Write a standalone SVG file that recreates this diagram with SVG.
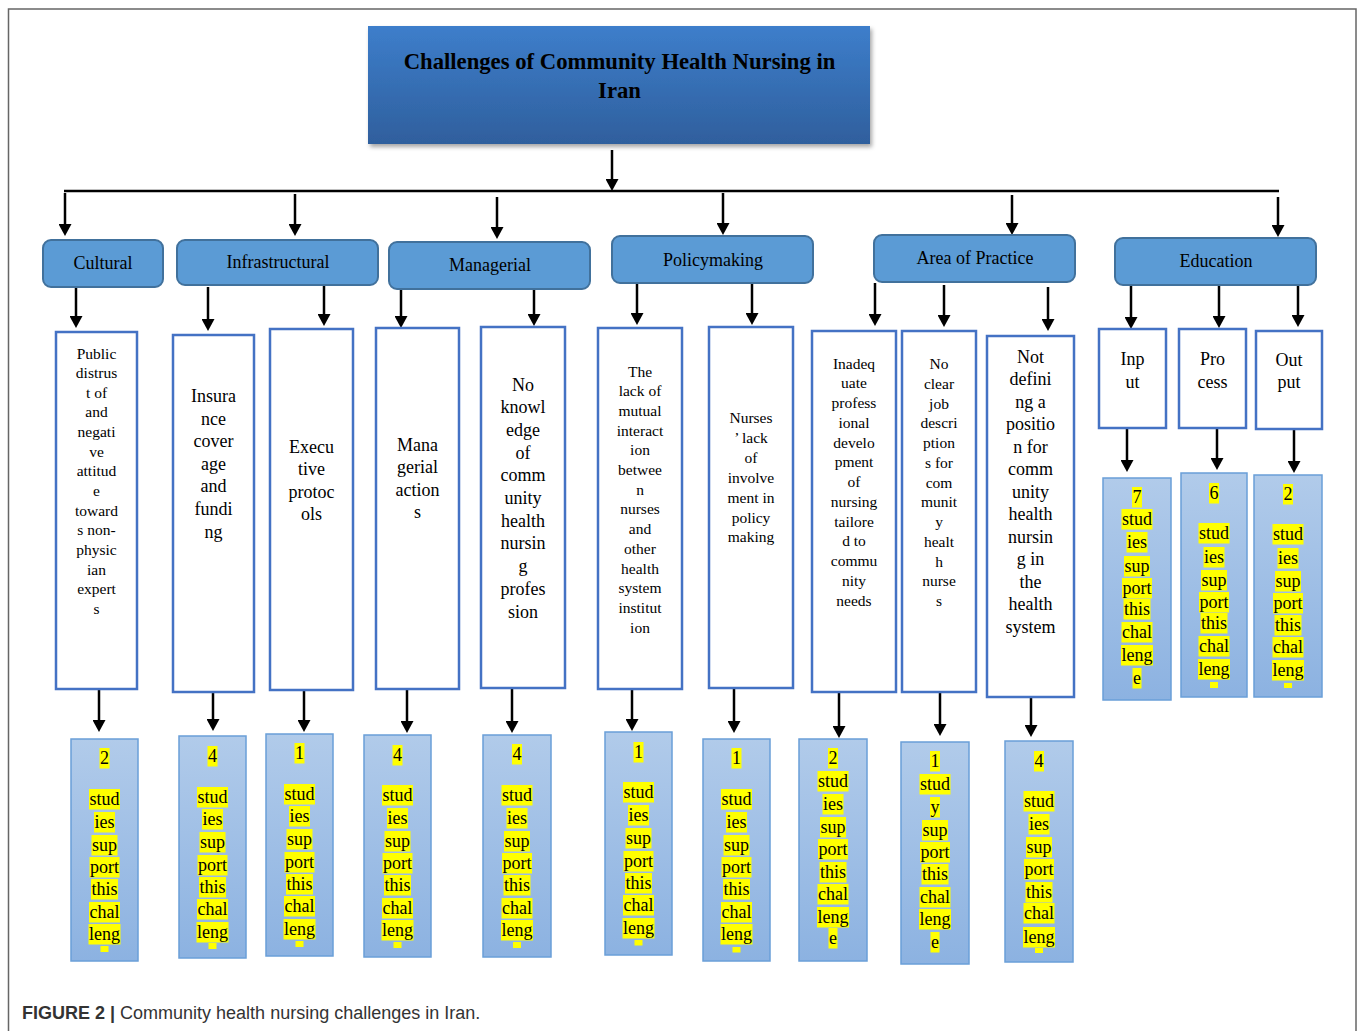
<svg xmlns="http://www.w3.org/2000/svg" width="1358" height="1031" viewBox="0 0 1358 1031">
<defs>
<linearGradient id="tg" x1="0" y1="0" x2="0" y2="1"><stop offset="0" stop-color="#3d7ecb"/><stop offset="1" stop-color="#2f5f9d"/></linearGradient>
<linearGradient id="sg" x1="0" y1="0" x2="0" y2="1"><stop offset="0" stop-color="#b1cbea"/><stop offset="1" stop-color="#8cb2e1"/></linearGradient>
<filter id="sh" x="-5%" y="-10%" width="112%" height="130%"><feDropShadow dx="2" dy="3" stdDeviation="2" flood-color="#000" flood-opacity="0.35"/></filter>
<marker id="ah" markerUnits="userSpaceOnUse" markerWidth="12" markerHeight="13" viewBox="0 0 12 13" refX="8" refY="6.5" orient="auto"><path d="M0,0 L12,6.5 L0,13 Z" fill="#000"/></marker>
</defs>
<style>
.fr{fill:none;stroke:#666;stroke-width:1.5}
.ttl{font-family:"Liberation Serif",serif;font-weight:bold;font-size:22.7px;text-anchor:middle;fill:#000}
.cat rect{fill:#5b9bd5;stroke:#41719c;stroke-width:2}
.cat text{font-family:"Liberation Serif",serif;font-size:18px;text-anchor:middle;fill:#000}
.det rect{fill:#fff;stroke:#4472c4;stroke-width:2.5}
.det text{font-family:"Liberation Serif",serif;text-anchor:middle;fill:#000}
.s15{font-size:15.5px}
.s18{font-size:18px}
.st>rect{fill:url(#sg);stroke:#6a9fd8;stroke-width:1.5}
.st .h{fill:#ffff00}
.st text{font-family:"Liberation Serif",serif;font-size:18px;text-anchor:middle;fill:#000}
#connectors line,#connectors path{stroke:#000;stroke-width:2.5;fill:none}
#connectors line{marker-end:url(#ah)}
.cap{font-family:"Liberation Sans",Arial,sans-serif;font-size:18px;fill:#333}
</style>
<rect x="0" y="0" width="1358" height="1031" fill="#fff"/>
<rect class="fr" x="8.5" y="9" width="1347.5" height="1040"/>

<g id="title">
<rect x="368" y="26" width="502" height="118" fill="url(#tg)" filter="url(#sh)"/>
<text class="ttl" x="619.5" y="69">Challenges of Community Health Nursing in</text>
<text class="ttl" x="619.5" y="98">Iran</text>
</g>

<g id="connectors">
<line x1="612" y1="150" x2="612" y2="187"/>
<path d="M64,191 H1279" stroke-width="2"/>
<line x1="65" y1="193" x2="65" y2="232"/>
<line x1="295" y1="194" x2="295" y2="232"/>
<line x1="497" y1="197" x2="497" y2="235"/>
<line x1="723" y1="193" x2="723" y2="231"/>
<line x1="1012" y1="195" x2="1012" y2="231"/>
<line x1="1278" y1="197" x2="1278" y2="233"/>
<line x1="76" y1="287" x2="76" y2="324"/>
<line x1="208" y1="287" x2="208" y2="327"/>
<line x1="324" y1="284" x2="324" y2="322"/>
<line x1="401" y1="289" x2="401" y2="324"/>
<line x1="534" y1="286" x2="534" y2="322"/>
<line x1="637" y1="283" x2="637" y2="321"/>
<line x1="752" y1="283" x2="752" y2="321"/>
<line x1="875" y1="283" x2="875" y2="322"/>
<line x1="944" y1="285" x2="944" y2="323"/>
<line x1="1048" y1="287" x2="1048" y2="327"/>
<line x1="1131" y1="286" x2="1131" y2="325"/>
<line x1="1219" y1="285" x2="1219" y2="324"/>
<line x1="1298" y1="284" x2="1298" y2="323"/>
<line x1="99" y1="689" x2="99" y2="728"/>
<line x1="213" y1="692" x2="213" y2="727"/>
<line x1="304" y1="690" x2="304" y2="728"/>
<line x1="407" y1="689" x2="407" y2="729"/>
<line x1="512" y1="688" x2="512" y2="729"/>
<line x1="632" y1="689" x2="632" y2="727"/>
<line x1="734" y1="688" x2="734" y2="729"/>
<line x1="839" y1="692" x2="839" y2="734"/>
<line x1="940" y1="692" x2="940" y2="732"/>
<line x1="1031" y1="697" x2="1031" y2="733"/>
<line x1="1127" y1="428" x2="1127" y2="468"/>
<line x1="1217" y1="428" x2="1217" y2="466"/>
<line x1="1294" y1="429" x2="1294" y2="469"/>
</g>

<g id="cat-cultural" class="cat"><rect x="43" y="240" width="120" height="47" rx="8"/><text x="103" y="269">Cultural</text></g>
<g id="cat-infrastructural" class="cat"><rect x="177" y="240" width="201" height="45" rx="8"/><text x="278" y="268">Infrastructural</text></g>
<g id="cat-managerial" class="cat"><rect x="389" y="242" width="201" height="47" rx="8"/><text x="490" y="271">Managerial</text></g>
<g id="cat-policymaking" class="cat"><rect x="612" y="236" width="201" height="47" rx="8"/><text x="713" y="266">Policymaking</text></g>
<g id="cat-area" class="cat"><rect x="874" y="235" width="201" height="47" rx="8"/><text x="975" y="264">Area of Practice</text></g>
<g id="cat-education" class="cat"><rect x="1115" y="238" width="201" height="47" rx="8"/><text x="1216" y="267">Education</text></g>

<g id="d-public" class="det"><rect x="56" y="332" width="81" height="357"/>
<text class="s15" y="358.5"><tspan x="96.5">Public</tspan><tspan x="96.5" dy="19.65">distrus</tspan><tspan x="96.5" dy="19.65">t of</tspan><tspan x="96.5" dy="19.65">and</tspan><tspan x="96.5" dy="19.65">negati</tspan><tspan x="96.5" dy="19.65">ve</tspan><tspan x="96.5" dy="19.65">attitud</tspan><tspan x="96.5" dy="19.65">e</tspan><tspan x="96.5" dy="19.65">toward</tspan><tspan x="96.5" dy="19.65">s non-</tspan><tspan x="96.5" dy="19.65">physic</tspan><tspan x="96.5" dy="19.65">ian</tspan><tspan x="96.5" dy="19.65">expert</tspan><tspan x="96.5" dy="19.65">s</tspan></text></g>
<g id="d-insurance" class="det"><rect x="173" y="335" width="81" height="357"/>
<text class="s18" y="402"><tspan x="213.5">Insura</tspan><tspan x="213.5" dy="22.6">nce</tspan><tspan x="213.5" dy="22.6">cover</tspan><tspan x="213.5" dy="22.6">age</tspan><tspan x="213.5" dy="22.6">and</tspan><tspan x="213.5" dy="22.6">fundi</tspan><tspan x="213.5" dy="22.6">ng</tspan></text></g>
<g id="d-executive" class="det"><rect x="270" y="329" width="83" height="361"/>
<text class="s18" y="452.5"><tspan x="311.5">Execu</tspan><tspan x="311.5" dy="22.5">tive</tspan><tspan x="311.5" dy="22.5">protoc</tspan><tspan x="311.5" dy="22.5">ols</tspan></text></g>
<g id="d-managerial" class="det"><rect x="376" y="328" width="83" height="361"/>
<text class="s18" y="450.5"><tspan x="417.5">Mana</tspan><tspan x="417.5" dy="22.5">gerial</tspan><tspan x="417.5" dy="22.5">action</tspan><tspan x="417.5" dy="22.5">s</tspan></text></g>
<g id="d-knowledge" class="det"><rect x="481" y="327" width="84" height="361"/>
<text class="s18" y="390.5"><tspan x="523">No</tspan><tspan x="523" dy="22.7">knowl</tspan><tspan x="523" dy="22.7">edge</tspan><tspan x="523" dy="22.7">of</tspan><tspan x="523" dy="22.7">comm</tspan><tspan x="523" dy="22.7">unity</tspan><tspan x="523" dy="22.7">health</tspan><tspan x="523" dy="22.7">nursin</tspan><tspan x="523" dy="22.7">g</tspan><tspan x="523" dy="22.7">profes</tspan><tspan x="523" dy="22.7">sion</tspan></text></g>
<g id="d-interaction" class="det"><rect x="598" y="328" width="84" height="361"/>
<text class="s15" y="376.5"><tspan x="640">The</tspan><tspan x="640" dy="19.7">lack of</tspan><tspan x="640" dy="19.7">mutual</tspan><tspan x="640" dy="19.7">interact</tspan><tspan x="640" dy="19.7">ion</tspan><tspan x="640" dy="19.7">betwee</tspan><tspan x="640" dy="19.7">n</tspan><tspan x="640" dy="19.7">nurses</tspan><tspan x="640" dy="19.7">and</tspan><tspan x="640" dy="19.7">other</tspan><tspan x="640" dy="19.7">health</tspan><tspan x="640" dy="19.7">system</tspan><tspan x="640" dy="19.7">institut</tspan><tspan x="640" dy="19.7">ion</tspan></text></g>
<g id="d-nurses" class="det"><rect x="709" y="327" width="84" height="361"/>
<text class="s15" y="423"><tspan x="751">Nurses</tspan><tspan x="751" dy="19.9">’ lack</tspan><tspan x="751" dy="19.9">of</tspan><tspan x="751" dy="19.9">involve</tspan><tspan x="751" dy="19.9">ment in</tspan><tspan x="751" dy="19.9">policy</tspan><tspan x="751" dy="19.9">making</tspan></text></g>
<g id="d-inadequate" class="det"><rect x="812" y="331" width="84" height="361"/>
<text class="s15" y="368.5"><tspan x="854">Inadeq</tspan><tspan x="854" dy="19.75">uate</tspan><tspan x="854" dy="19.75">profess</tspan><tspan x="854" dy="19.75">ional</tspan><tspan x="854" dy="19.75">develo</tspan><tspan x="854" dy="19.75">pment</tspan><tspan x="854" dy="19.75">of</tspan><tspan x="854" dy="19.75">nursing</tspan><tspan x="854" dy="19.75">tailore</tspan><tspan x="854" dy="19.75">d to</tspan><tspan x="854" dy="19.75">commu</tspan><tspan x="854" dy="19.75">nity</tspan><tspan x="854" dy="19.75">needs</tspan></text></g>
<g id="d-jobdesc" class="det"><rect x="902" y="331" width="74" height="361"/>
<text class="s15" y="369"><tspan x="939">No</tspan><tspan x="939" dy="19.75">clear</tspan><tspan x="939" dy="19.75">job</tspan><tspan x="939" dy="19.75">descri</tspan><tspan x="939" dy="19.75">ption</tspan><tspan x="939" dy="19.75">s for</tspan><tspan x="939" dy="19.75">com</tspan><tspan x="939" dy="19.75">munit</tspan><tspan x="939" dy="19.75">y</tspan><tspan x="939" dy="19.75">healt</tspan><tspan x="939" dy="19.75">h</tspan><tspan x="939" dy="19.75">nurse</tspan><tspan x="939" dy="19.75">s</tspan></text></g>
<g id="d-position" class="det"><rect x="987" y="336" width="87" height="361"/>
<text class="s18" y="362.5"><tspan x="1030.5">Not</tspan><tspan x="1030.5" dy="22.5">defini</tspan><tspan x="1030.5" dy="22.5">ng a</tspan><tspan x="1030.5" dy="22.5">positio</tspan><tspan x="1030.5" dy="22.5">n for</tspan><tspan x="1030.5" dy="22.5">comm</tspan><tspan x="1030.5" dy="22.5">unity</tspan><tspan x="1030.5" dy="22.5">health</tspan><tspan x="1030.5" dy="22.5">nursin</tspan><tspan x="1030.5" dy="22.5">g in</tspan><tspan x="1030.5" dy="22.5">the</tspan><tspan x="1030.5" dy="22.5">health</tspan><tspan x="1030.5" dy="22.5">system</tspan></text></g>
<g id="d-input" class="det"><rect x="1099" y="329" width="67" height="99"/>
<text class="s18" y="365"><tspan x="1132.5">Inp</tspan><tspan x="1132.5" dy="22.5">ut</tspan></text></g>
<g id="d-process" class="det"><rect x="1179" y="329" width="67" height="99"/>
<text class="s18" y="365"><tspan x="1212.5">Pro</tspan><tspan x="1212.5" dy="22.5">cess</tspan></text></g>
<g id="d-output" class="det"><rect x="1256" y="331" width="66" height="98"/>
<text class="s18" y="365.5"><tspan x="1289">Out</tspan><tspan x="1289" dy="22.5">put</tspan></text></g>

<g id="s-public" class="st"><rect x="71" y="739" width="67" height="222"/>
<g transform="translate(104.5,0)">
<rect class="h" x="-5" y="748" width="10" height="20.5"/><text y="764">2</text>
<rect class="h" x="-15.5" y="789" width="31" height="20.5"/><text y="805">stud</text>
<rect class="h" x="-10.5" y="812" width="21" height="20.5"/><text y="828">ies</text>
<rect class="h" x="-13" y="835" width="26" height="20.5"/><text y="851">sup</text>
<rect class="h" x="-15" y="857" width="30" height="20.5"/><text y="873">port</text>
<rect class="h" x="-13.5" y="879" width="27" height="20.5"/><text y="895">this</text>
<rect class="h" x="-15.5" y="902" width="31" height="20.5"/><text y="918">chal</text>
<rect class="h" x="-16" y="924" width="32" height="20.5"/><text y="940">leng</text>
<rect class="h" x="-4" y="946" width="8" height="6"/>
</g></g>
<g id="s-insurance" class="st"><rect x="179" y="736" width="67" height="222"/>
<g transform="translate(212.5,0)">
<rect class="h" x="-5" y="746" width="10" height="20.5"/><text y="762">4</text>
<rect class="h" x="-15.5" y="787" width="31" height="20.5"/><text y="803">stud</text>
<rect class="h" x="-10.5" y="809" width="21" height="20.5"/><text y="825">ies</text>
<rect class="h" x="-13" y="832" width="26" height="20.5"/><text y="848">sup</text>
<rect class="h" x="-15" y="855" width="30" height="20.5"/><text y="871">port</text>
<rect class="h" x="-13.5" y="877" width="27" height="20.5"/><text y="893">this</text>
<rect class="h" x="-15.5" y="899" width="31" height="20.5"/><text y="915">chal</text>
<rect class="h" x="-16" y="922" width="32" height="20.5"/><text y="938">leng</text>
<rect class="h" x="-4" y="943" width="8" height="6"/>
</g></g>
<g id="s-executive" class="st"><rect x="266" y="734" width="67" height="222"/>
<g transform="translate(299.5,0)">
<rect class="h" x="-5" y="743" width="10" height="20.5"/><text y="759">1</text>
<rect class="h" x="-15.5" y="784" width="31" height="20.5"/><text y="800">stud</text>
<rect class="h" x="-10.5" y="806" width="21" height="20.5"/><text y="822">ies</text>
<rect class="h" x="-13" y="829" width="26" height="20.5"/><text y="845">sup</text>
<rect class="h" x="-15" y="852" width="30" height="20.5"/><text y="868">port</text>
<rect class="h" x="-13.5" y="874" width="27" height="20.5"/><text y="890">this</text>
<rect class="h" x="-15.5" y="896" width="31" height="20.5"/><text y="912">chal</text>
<rect class="h" x="-16" y="919" width="32" height="20.5"/><text y="935">leng</text>
<rect class="h" x="-4" y="941" width="8" height="6"/>
</g></g>
<g id="s-managerial" class="st"><rect x="364" y="735" width="67" height="222"/>
<g transform="translate(397.5,0)">
<rect class="h" x="-5" y="745" width="10" height="20.5"/><text y="761">4</text>
<rect class="h" x="-15.5" y="785" width="31" height="20.5"/><text y="801">stud</text>
<rect class="h" x="-10.5" y="808" width="21" height="20.5"/><text y="824">ies</text>
<rect class="h" x="-13" y="831" width="26" height="20.5"/><text y="847">sup</text>
<rect class="h" x="-15" y="853" width="30" height="20.5"/><text y="869">port</text>
<rect class="h" x="-13.5" y="875" width="27" height="20.5"/><text y="891">this</text>
<rect class="h" x="-15.5" y="898" width="31" height="20.5"/><text y="914">chal</text>
<rect class="h" x="-16" y="920" width="32" height="20.5"/><text y="936">leng</text>
<rect class="h" x="-4" y="942" width="8" height="6"/>
</g></g>
<g id="s-knowledge" class="st"><rect x="483" y="735" width="68" height="222"/>
<g transform="translate(517,0)">
<rect class="h" x="-5" y="744" width="10" height="20.5"/><text y="760">4</text>
<rect class="h" x="-15.5" y="785" width="31" height="20.5"/><text y="801">stud</text>
<rect class="h" x="-10.5" y="808" width="21" height="20.5"/><text y="824">ies</text>
<rect class="h" x="-13" y="831" width="26" height="20.5"/><text y="847">sup</text>
<rect class="h" x="-15" y="853" width="30" height="20.5"/><text y="869">port</text>
<rect class="h" x="-13.5" y="875" width="27" height="20.5"/><text y="891">this</text>
<rect class="h" x="-15.5" y="898" width="31" height="20.5"/><text y="914">chal</text>
<rect class="h" x="-16" y="920" width="32" height="20.5"/><text y="936">leng</text>
<rect class="h" x="-4" y="942" width="8" height="6"/>
</g></g>
<g id="s-interaction" class="st"><rect x="605" y="732" width="67" height="223"/>
<g transform="translate(638.5,0)">
<rect class="h" x="-5" y="742" width="10" height="20.5"/><text y="758">1</text>
<rect class="h" x="-15.5" y="782" width="31" height="20.5"/><text y="798">stud</text>
<rect class="h" x="-10.5" y="805" width="21" height="20.5"/><text y="821">ies</text>
<rect class="h" x="-13" y="828" width="26" height="20.5"/><text y="844">sup</text>
<rect class="h" x="-15" y="851" width="30" height="20.5"/><text y="867">port</text>
<rect class="h" x="-13.5" y="873" width="27" height="20.5"/><text y="889">this</text>
<rect class="h" x="-15.5" y="895" width="31" height="20.5"/><text y="911">chal</text>
<rect class="h" x="-16" y="918" width="32" height="20.5"/><text y="934">leng</text>
<rect class="h" x="-4" y="940" width="8" height="5.5"/>
</g></g>
<g id="s-nurses" class="st"><rect x="703" y="739" width="67" height="222"/>
<g transform="translate(736.5,0)">
<rect class="h" x="-5" y="748" width="10" height="20.5"/><text y="764">1</text>
<rect class="h" x="-15.5" y="789" width="31" height="20.5"/><text y="805">stud</text>
<rect class="h" x="-10.5" y="812" width="21" height="20.5"/><text y="828">ies</text>
<rect class="h" x="-13" y="835" width="26" height="20.5"/><text y="851">sup</text>
<rect class="h" x="-15" y="857" width="30" height="20.5"/><text y="873">port</text>
<rect class="h" x="-13.5" y="879" width="27" height="20.5"/><text y="895">this</text>
<rect class="h" x="-15.5" y="902" width="31" height="20.5"/><text y="918">chal</text>
<rect class="h" x="-16" y="924" width="32" height="20.5"/><text y="940">leng</text>
<rect class="h" x="-4" y="947" width="8" height="5.5"/>
</g></g>
<g id="s-inadequate" class="st"><rect x="799" y="739" width="68" height="222"/>
<g transform="translate(833,0)">
<rect class="h" x="-5" y="748" width="10" height="20.5"/><text y="764">2</text>
<rect class="h" x="-15.5" y="771" width="31" height="20.5"/><text y="787">stud</text>
<rect class="h" x="-10.5" y="794" width="21" height="20.5"/><text y="810">ies</text>
<rect class="h" x="-13" y="817" width="26" height="20.5"/><text y="833">sup</text>
<rect class="h" x="-15" y="839" width="30" height="20.5"/><text y="855">port</text>
<rect class="h" x="-13.5" y="862" width="27" height="20.5"/><text y="878">this</text>
<rect class="h" x="-15.5" y="884" width="31" height="20.5"/><text y="900">chal</text>
<rect class="h" x="-16" y="907" width="32" height="20.5"/><text y="923">leng</text>
<rect class="h" x="-4.5" y="928" width="9" height="20.5"/><text y="944">e</text>
</g></g>
<g id="s-jobdesc" class="st"><rect x="901" y="742" width="68" height="222"/>
<g transform="translate(935,0)">
<rect class="h" x="-5" y="751" width="10" height="20.5"/><text y="767">1</text>
<rect class="h" x="-15.5" y="774" width="31" height="20.5"/><text y="790">stud</text>
<rect class="h" x="-5" y="797" width="10" height="20.5"/><text y="813">y</text>
<rect class="h" x="-13" y="820" width="26" height="20.5"/><text y="836">sup</text>
<rect class="h" x="-15" y="842" width="30" height="20.5"/><text y="858">port</text>
<rect class="h" x="-13.5" y="864" width="27" height="20.5"/><text y="880">this</text>
<rect class="h" x="-15.5" y="887" width="31" height="20.5"/><text y="903">chal</text>
<rect class="h" x="-16" y="909" width="32" height="20.5"/><text y="925">leng</text>
<rect class="h" x="-4.5" y="932" width="9" height="20.5"/><text y="948">e</text>
</g></g>
<g id="s-position" class="st"><rect x="1005" y="741" width="68" height="221"/>
<g transform="translate(1039,0)">
<rect class="h" x="-5" y="751" width="10" height="20.5"/><text y="767">4</text>
<rect class="h" x="-15.5" y="791" width="31" height="20.5"/><text y="807">stud</text>
<rect class="h" x="-10.5" y="814" width="21" height="20.5"/><text y="830">ies</text>
<rect class="h" x="-13" y="837" width="26" height="20.5"/><text y="853">sup</text>
<rect class="h" x="-15" y="859" width="30" height="20.5"/><text y="875">port</text>
<rect class="h" x="-13.5" y="882" width="27" height="20.5"/><text y="898">this</text>
<rect class="h" x="-15.5" y="903" width="31" height="20.5"/><text y="919">chal</text>
<rect class="h" x="-16" y="927" width="32" height="20.5"/><text y="943">leng</text>
<rect class="h" x="-4" y="948" width="8" height="5"/>
</g></g>
<g id="s-input" class="st"><rect x="1103" y="478" width="68" height="222"/>
<g transform="translate(1137,0)">
<rect class="h" x="-5" y="487" width="10" height="20.5"/><text y="503">7</text>
<rect class="h" x="-15.5" y="509" width="31" height="20.5"/><text y="525">stud</text>
<rect class="h" x="-10.5" y="532" width="21" height="20.5"/><text y="548">ies</text>
<rect class="h" x="-13" y="556" width="26" height="20.5"/><text y="572">sup</text>
<rect class="h" x="-15" y="578" width="30" height="20.5"/><text y="594">port</text>
<rect class="h" x="-13.5" y="599" width="27" height="20.5"/><text y="615">this</text>
<rect class="h" x="-15.5" y="622" width="31" height="20.5"/><text y="638">chal</text>
<rect class="h" x="-16" y="645" width="32" height="20.5"/><text y="661">leng</text>
<rect class="h" x="-4.5" y="668" width="9" height="20.5"/><text y="684">e</text>
</g></g>
<g id="s-process" class="st"><rect x="1181" y="473" width="66" height="224"/>
<g transform="translate(1214,0)">
<rect class="h" x="-5" y="483" width="10" height="20.5"/><text y="499">6</text>
<rect class="h" x="-15.5" y="523" width="31" height="20.5"/><text y="539">stud</text>
<rect class="h" x="-10.5" y="547" width="21" height="20.5"/><text y="563">ies</text>
<rect class="h" x="-13" y="570" width="26" height="20.5"/><text y="586">sup</text>
<rect class="h" x="-15" y="592" width="30" height="20.5"/><text y="608">port</text>
<rect class="h" x="-13.5" y="613" width="27" height="20.5"/><text y="629">this</text>
<rect class="h" x="-15.5" y="636" width="31" height="20.5"/><text y="652">chal</text>
<rect class="h" x="-16" y="659" width="32" height="20.5"/><text y="675">leng</text>
<rect class="h" x="-4" y="682" width="8" height="6"/>
</g></g>
<g id="s-output" class="st"><rect x="1254" y="475" width="68" height="222"/>
<g transform="translate(1288,0)">
<rect class="h" x="-5" y="484" width="10" height="20.5"/><text y="500">2</text>
<rect class="h" x="-15.5" y="524" width="31" height="20.5"/><text y="540">stud</text>
<rect class="h" x="-10.5" y="548" width="21" height="20.5"/><text y="564">ies</text>
<rect class="h" x="-13" y="571" width="26" height="20.5"/><text y="587">sup</text>
<rect class="h" x="-15" y="593" width="30" height="20.5"/><text y="609">port</text>
<rect class="h" x="-13.5" y="615" width="27" height="20.5"/><text y="631">this</text>
<rect class="h" x="-15.5" y="637" width="31" height="20.5"/><text y="653">chal</text>
<rect class="h" x="-16" y="660" width="32" height="20.5"/><text y="676">leng</text>
<rect class="h" x="-4" y="683" width="8" height="5"/>
</g></g>

<text class="cap" x="22" y="1019"><tspan font-weight="bold">FIGURE 2 |</tspan> Community health nursing challenges in Iran.</text>
</svg>
